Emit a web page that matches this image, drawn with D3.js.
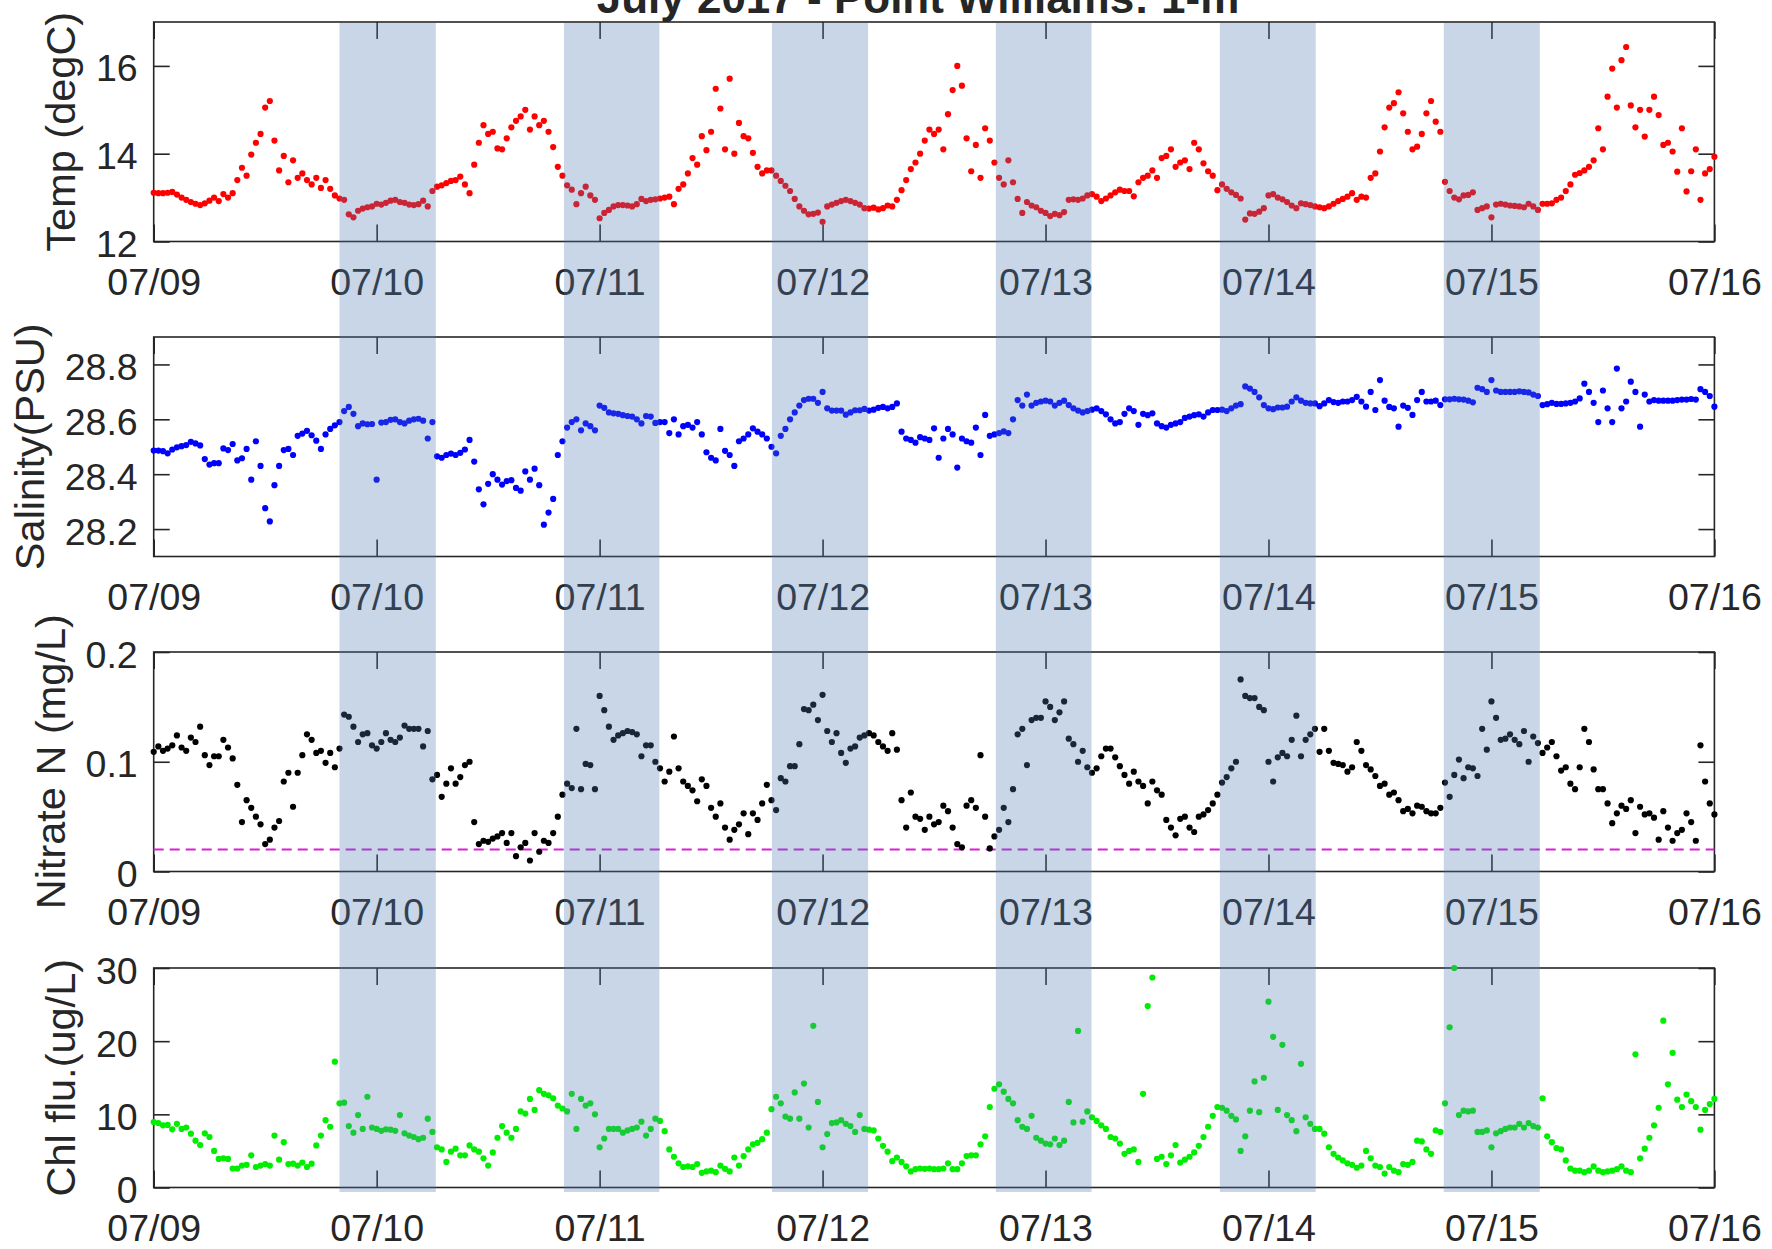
<!DOCTYPE html>
<html>
<head>
<meta charset="utf-8">
<script src="https://cdn.jsdelivr.net/npm/d3@7"></script>
<style>
  html, body { margin: 0; padding: 0; background: #fff; }
  svg { display: block; }
  text { font-family: "Liberation Sans", Arial, Helvetica, sans-serif; fill: #262626; }
</style>
</head>
<body>
<svg id="chart" width="1772" height="1249"></svg>
<script>
// ---- Sampling grid: readings every 30 minutes from 07/09 00:00 to 07/16 00:00 ----
const seriesStart = "2017-07-09T00:00";
const stepMinutes = 30;

const dayTicks = ["2017-07-09", "2017-07-10", "2017-07-11", "2017-07-12",
                  "2017-07-13", "2017-07-14", "2017-07-15", "2017-07-16"];

// Night periods (shaded)
const nightStart = ["2017-07-09T20:00", "2017-07-10T20:10", "2017-07-11T18:33",
                    "2017-07-12T18:39", "2017-07-13T18:46", "2017-07-14T18:52"];
const nightEnd   = ["2017-07-10T06:22", "2017-07-11T06:26", "2017-07-12T04:54",
                    "2017-07-13T04:57", "2017-07-14T05:05", "2017-07-15T05:12"];

// Temperature, degC (one row per day)
const tempC = [
  13.11,13.10,13.10,13.11,13.13,13.07,13.00,12.95,12.90,12.86,12.83,12.87,12.93,13.00,12.92,13.08,13.00,13.10,13.40,13.68,13.50,13.98,14.25,14.45,15.05,15.20,14.30,13.62,13.95,13.35,13.85,13.45,13.55,13.40,13.30,13.45,13.22,13.40,13.20,13.05,12.98,12.95,12.62,12.55,12.70,12.75,12.78,12.80,
  12.86,12.84,12.88,12.93,12.95,12.90,12.88,12.84,12.83,12.85,12.93,12.80,13.15,13.25,13.28,13.33,13.38,13.40,13.48,13.30,13.10,13.75,14.25,14.65,14.45,14.50,14.12,14.10,14.35,14.60,14.75,14.85,15.00,14.55,14.85,14.65,14.75,14.50,14.15,13.70,13.50,13.28,13.18,12.85,13.10,13.25,13.05,12.95,
  12.53,12.65,12.72,12.80,12.83,12.83,12.82,12.80,12.85,12.97,12.92,12.95,12.96,12.98,13.00,13.02,12.85,13.20,13.30,13.55,13.90,13.75,14.40,14.08,14.50,15.48,15.03,14.10,15.71,14.00,14.70,14.40,14.35,14.02,13.70,13.55,13.62,13.62,13.50,13.38,13.27,13.15,12.97,12.80,12.70,12.62,12.63,12.66,
  12.45,12.80,12.84,12.88,12.92,12.95,12.92,12.88,12.84,12.76,12.75,12.77,12.73,12.76,12.82,12.80,12.95,13.17,13.40,13.65,13.80,14.00,14.30,14.55,14.45,14.55,14.10,14.90,15.45,16.00,15.55,14.35,13.60,14.20,13.45,14.58,14.30,13.80,13.45,13.30,13.85,13.35,12.97,12.65,12.90,12.82,12.78,12.70,
  12.65,12.58,12.63,12.60,12.67,12.95,12.96,12.95,12.98,13.05,13.08,13.02,12.92,12.98,13.05,13.12,13.18,13.15,13.15,13.03,13.35,13.45,13.50,13.62,13.45,13.90,13.95,14.10,13.70,13.80,13.85,13.65,14.25,14.10,13.78,13.60,13.50,13.17,13.30,13.20,13.12,13.06,12.98,12.50,12.64,12.63,12.68,12.76,
  13.05,13.08,13.00,12.96,12.90,12.82,12.76,12.87,12.85,12.83,12.80,12.78,12.76,12.80,12.86,12.92,12.97,13.02,13.10,12.95,13.02,13.00,13.45,13.55,14.05,14.60,15.05,15.15,15.40,14.92,14.50,14.10,14.16,14.45,14.92,15.20,14.73,14.50,13.36,13.15,13.00,12.96,13.05,13.06,13.12,12.72,12.76,12.80,
  12.55,12.84,12.86,12.84,12.82,12.81,12.80,12.78,12.86,12.80,12.72,12.86,12.86,12.87,12.95,13.00,13.15,13.30,13.52,13.56,13.62,13.70,13.85,14.58,14.10,15.30,15.94,15.05,16.13,16.43,15.10,14.60,15.00,14.39,15.00,15.30,14.88,14.20,14.25,14.05,13.59,14.58,13.14,13.60,14.10,12.95,13.55,13.65,
  13.93
];

// Salinity, PSU
const salinityPSU = [
  28.486,28.486,28.484,28.476,28.490,28.498,28.502,28.506,28.518,28.512,28.505,28.455,28.435,28.440,28.440,28.494,28.488,28.510,28.450,28.458,28.492,28.380,28.520,28.430,28.276,28.228,28.360,28.430,28.488,28.492,28.470,28.540,28.548,28.558,28.542,28.522,28.492,28.545,28.565,28.578,28.590,28.630,28.645,28.620,28.575,28.585,28.582,28.583,
  28.380,28.588,28.590,28.598,28.600,28.590,28.585,28.595,28.600,28.602,28.595,28.530,28.590,28.465,28.460,28.470,28.475,28.470,28.478,28.490,28.525,28.446,28.345,28.290,28.365,28.400,28.380,28.362,28.375,28.378,28.350,28.340,28.410,28.380,28.420,28.360,28.216,28.260,28.310,28.470,28.520,28.570,28.590,28.600,28.560,28.585,28.575,28.560,
  28.650,28.642,28.625,28.622,28.620,28.615,28.612,28.610,28.600,28.585,28.612,28.610,28.587,28.590,28.590,28.550,28.600,28.545,28.575,28.580,28.570,28.590,28.545,28.480,28.460,28.450,28.565,28.485,28.470,28.430,28.520,28.530,28.545,28.567,28.555,28.545,28.530,28.500,28.476,28.540,28.565,28.600,28.625,28.650,28.670,28.675,28.675,28.660,
  28.700,28.640,28.632,28.632,28.632,28.617,28.625,28.633,28.633,28.638,28.632,28.635,28.642,28.645,28.640,28.645,28.658,28.555,28.530,28.525,28.515,28.535,28.530,28.525,28.567,28.460,28.530,28.565,28.545,28.424,28.530,28.520,28.515,28.570,28.470,28.616,28.540,28.545,28.550,28.556,28.550,28.600,28.670,28.650,28.690,28.650,28.660,28.665,
  28.668,28.665,28.650,28.660,28.668,28.652,28.640,28.632,28.625,28.630,28.635,28.640,28.630,28.618,28.600,28.585,28.590,28.620,28.640,28.630,28.580,28.620,28.615,28.622,28.585,28.575,28.570,28.580,28.585,28.590,28.605,28.610,28.615,28.618,28.610,28.625,28.634,28.634,28.635,28.630,28.640,28.650,28.655,28.720,28.712,28.700,28.680,28.652,
  28.640,28.637,28.643,28.643,28.646,28.665,28.680,28.668,28.660,28.658,28.658,28.648,28.658,28.670,28.663,28.660,28.665,28.665,28.670,28.682,28.665,28.646,28.700,28.634,28.743,28.668,28.645,28.640,28.573,28.650,28.642,28.616,28.670,28.700,28.665,28.665,28.668,28.652,28.673,28.673,28.675,28.673,28.672,28.668,28.662,28.715,28.710,28.700,
  28.743,28.705,28.700,28.700,28.700,28.700,28.702,28.700,28.698,28.690,28.685,28.652,28.655,28.660,28.656,28.656,28.658,28.660,28.665,28.676,28.730,28.700,28.660,28.590,28.705,28.640,28.590,28.785,28.640,28.665,28.737,28.700,28.573,28.690,28.665,28.670,28.668,28.668,28.668,28.668,28.670,28.672,28.672,28.674,28.672,28.710,28.700,28.685,
  28.646
];

// Nitrate N, mg/L
const nitrateN = [
  0.109,0.114,0.110,0.112,0.115,0.124,0.113,0.110,0.122,0.118,0.132,0.106,0.097,0.105,0.105,0.120,0.113,0.103,0.079,0.045,0.065,0.058,0.050,0.043,0.025,0.029,0.040,0.046,0.082,0.090,0.059,0.090,0.106,0.125,0.120,0.108,0.110,0.099,0.108,0.095,0.112,0.143,0.141,0.132,0.118,0.125,0.126,0.115,
  0.112,0.118,0.126,0.120,0.118,0.122,0.133,0.130,0.130,0.130,0.114,0.128,0.084,0.088,0.068,0.080,0.094,0.080,0.086,0.097,0.100,0.045,0.025,0.028,0.027,0.030,0.032,0.035,0.026,0.035,0.014,0.022,0.026,0.010,0.035,0.018,0.028,0.026,0.035,0.050,0.070,0.080,0.076,0.130,0.075,0.098,0.097,0.075,
  0.160,0.147,0.132,0.120,0.124,0.126,0.128,0.127,0.125,0.105,0.115,0.115,0.100,0.094,0.082,0.091,0.123,0.094,0.082,0.078,0.074,0.064,0.084,0.078,0.058,0.050,0.062,0.040,0.029,0.038,0.043,0.053,0.034,0.053,0.047,0.062,0.079,0.065,0.056,0.085,0.082,0.096,0.096,0.116,0.148,0.147,0.152,0.138,
  0.161,0.128,0.118,0.126,0.108,0.099,0.112,0.114,0.122,0.124,0.126,0.124,0.118,0.114,0.110,0.126,0.111,0.065,0.040,0.072,0.050,0.048,0.038,0.050,0.043,0.045,0.060,0.055,0.040,0.025,0.022,0.060,0.065,0.058,0.106,0.050,0.021,0.032,0.038,0.058,0.045,0.075,0.125,0.130,0.097,0.138,0.140,0.140,
  0.155,0.150,0.138,0.145,0.155,0.121,0.116,0.100,0.110,0.095,0.090,0.094,0.105,0.112,0.112,0.104,0.096,0.088,0.080,0.091,0.082,0.078,0.062,0.082,0.074,0.070,0.047,0.040,0.033,0.048,0.050,0.040,0.036,0.050,0.052,0.056,0.062,0.070,0.081,0.086,0.094,0.100,0.175,0.160,0.158,0.158,0.150,0.147,
  0.100,0.082,0.104,0.108,0.105,0.120,0.142,0.105,0.120,0.125,0.130,0.109,0.130,0.110,0.099,0.098,0.097,0.091,0.095,0.118,0.110,0.097,0.093,0.087,0.078,0.080,0.070,0.072,0.065,0.055,0.057,0.053,0.060,0.059,0.055,0.053,0.053,0.058,0.081,0.068,0.088,0.102,0.085,0.095,0.094,0.087,0.130,0.111,
  0.155,0.140,0.120,0.121,0.125,0.120,0.116,0.128,0.100,0.123,0.117,0.108,0.113,0.118,0.105,0.092,0.095,0.080,0.075,0.095,0.130,0.118,0.093,0.075,0.075,0.062,0.044,0.053,0.060,0.057,0.065,0.035,0.059,0.052,0.053,0.049,0.029,0.055,0.040,0.028,0.035,0.038,0.053,0.045,0.028,0.115,0.082,0.062,
  0.052
];
const nitrateThreshold = 0.02;

// Chlorophyll fluorescence, ug/L
const chlFlu = [
  8.95,8.80,8.50,8.55,7.95,8.70,8.00,8.20,7.35,6.40,5.80,7.40,6.90,5.00,3.90,4.00,3.90,2.60,2.60,3.00,3.10,4.40,2.80,3.00,3.20,3.00,7.10,3.80,6.20,3.20,3.25,3.00,3.40,2.80,3.25,5.75,7.10,9.20,8.30,17.20,11.50,11.60,8.40,7.50,9.90,8.00,12.40,8.20,
  8.00,7.75,7.95,7.90,7.75,9.90,7.40,7.10,6.90,6.60,6.80,9.40,7.60,5.50,5.20,3.50,4.90,5.30,4.40,4.40,5.75,5.20,4.90,4.00,3.00,4.80,6.80,8.40,7.50,6.80,8.00,10.40,10.10,12.10,10.60,13.30,12.80,12.60,12.20,11.20,10.80,10.40,12.80,8.00,12.10,11.20,11.50,10.00,
  5.50,6.70,8.00,8.00,8.00,7.50,7.80,8.00,8.20,9.00,7.10,8.00,9.40,9.10,7.70,5.20,4.20,3.30,2.80,2.90,2.80,3.20,2.00,2.20,2.30,2.10,3.00,2.55,2.20,4.10,3.00,4.30,5.20,5.90,6.10,6.60,7.50,10.70,12.40,11.50,9.70,9.40,13.00,9.40,14.20,8.20,22.10,11.70,
  5.50,7.30,8.80,8.90,9.20,8.70,8.40,7.60,9.90,8.00,7.90,7.80,6.70,5.70,4.90,3.60,4.10,3.50,2.90,2.20,2.50,2.60,2.55,2.60,2.50,2.50,2.60,3.30,2.50,2.50,3.30,4.30,4.40,4.40,5.90,7.00,11.00,13.50,14.10,13.10,12.10,11.50,9.20,8.30,8.00,9.80,6.80,6.40,
  6.00,5.90,6.70,5.80,6.40,11.70,8.90,21.40,9.00,10.40,9.60,9.10,8.50,8.00,6.90,6.70,6.00,4.60,5.00,5.20,3.50,12.80,24.80,28.70,3.90,4.20,3.20,4.40,5.80,3.40,3.80,4.20,4.80,5.70,6.90,8.30,9.80,11.00,10.90,10.50,9.80,9.30,5.00,7.00,10.50,14.50,10.30,15.00,
  25.40,20.60,10.60,19.50,9.90,9.20,7.70,16.90,9.60,8.70,8.00,8.00,7.35,5.50,4.60,4.10,3.70,3.30,3.10,2.70,3.00,5.00,4.00,3.00,2.80,1.90,2.80,2.30,2.10,3.20,3.10,3.50,6.40,6.30,5.20,4.60,7.80,7.60,11.50,21.90,30.00,9.90,10.50,10.40,10.50,7.60,7.60,7.80,
  5.50,7.40,7.70,8.00,8.20,8.20,8.70,8.20,8.80,8.40,8.20,12.20,7.00,6.20,5.40,5.20,3.70,2.60,2.30,2.30,2.10,2.30,2.90,2.30,2.10,2.20,2.30,2.50,2.90,2.30,2.10,18.20,4.00,5.30,6.80,8.50,10.90,22.80,14.10,18.40,12.00,11.00,12.70,11.80,11.00,7.90,10.60,11.40,
  12.10
];

// Axis tick values per panel
const tempTicks = [12, 14, 16];
const salinityTicks = [28.2, 28.4, 28.6, 28.8];
const nitrateTicks = [0, 0.1, 0.2];
const chlTicks = [0, 10, 20, 30];

const titleText = "July 2017 - Point Williams: 1-m";

// ---- Layout ----
const svg = d3.select("#chart");
svg.append("rect").attr("width", 1772).attr("height", 1249).attr("fill", "#fff");

const plotLeft = 153.7, plotRight = 1714.4;
const panelHeight = 219.5;
const axisColor = "#262626";
const tickFont = 37.5, labelFont = 41.5;

const parseTime = d3.utcParse("%Y-%m-%dT%H:%M");
const parseDay = d3.utcParse("%Y-%m-%d");
const t0 = parseTime(seriesStart);
const timeAt = i => new Date(t0.getTime() + i * stepMinutes * 60000);

const x = d3.scaleUtc()
  .domain([parseDay(dayTicks[0]), parseDay(dayTicks[dayTicks.length - 1])])
  .range([plotLeft, plotRight]);

const panels = [
  { label: "Temp (degC)",      values: tempC,       domain: [12, 17],     ticks: tempTicks,     color: "#ff0000", top: 22 },
  { label: "Salinity(PSU)",    values: salinityPSU, domain: [28.1, 28.9], ticks: salinityTicks, color: "#0000ff", top: 337 },
  { label: "Nitrate N (mg/L)", values: nitrateN,    domain: [0, 0.2],     ticks: nitrateTicks,  color: "#000000", top: 652, threshold: nitrateThreshold },
  { label: "Chl flu.(ug/L)",   values: chlFlu,      domain: [0, 30],      ticks: chlTicks,      color: "#00ee00", top: 968 }
];

const dayDates = dayTicks.map(parseDay);
const fmtDay = d3.utcFormat("%m/%d");

panels.forEach(p => {
  const g = svg.append("g").attr("transform", `translate(0,${p.top})`);
  const y = d3.scaleLinear().domain(p.domain).range([panelHeight, 0]);

  // box
  g.append("rect")
    .attr("x", plotLeft).attr("y", 0)
    .attr("width", plotRight - plotLeft).attr("height", panelHeight)
    .attr("fill", "none").attr("stroke", axisColor).attr("stroke-width", 1.6);

  // bottom axis with labels, inward ticks
  const gx = g.append("g").attr("transform", `translate(0,${panelHeight})`)
    .call(d3.axisBottom(x).tickValues(dayDates).tickFormat(fmtDay)
      .tickSizeInner(-17).tickSizeOuter(0).tickPadding(0));
  gx.select(".domain").remove();
  gx.selectAll(".tick line").attr("stroke", axisColor).attr("stroke-width", 1.6);
  gx.selectAll(".tick text").attr("y", 53.5).attr("dy", null)
    .attr("font-size", tickFont).attr("fill", axisColor);

  // top axis ticks
  const gt = g.append("g")
    .call(d3.axisTop(x).tickValues(dayDates).tickFormat("").tickSizeInner(-17).tickSizeOuter(0));
  gt.select(".domain").remove();
  gt.selectAll(".tick line").attr("stroke", axisColor).attr("stroke-width", 1.6);

  // left axis with labels
  const gy = g.append("g").attr("transform", `translate(${plotLeft},0)`)
    .call(d3.axisLeft(y).tickValues(p.ticks).tickFormat(d3.format("~g"))
      .tickSizeInner(-16).tickSizeOuter(0).tickPadding(16));
  gy.select(".domain").remove();
  gy.selectAll(".tick line").attr("stroke", axisColor).attr("stroke-width", 1.6);
  gy.selectAll(".tick text").attr("dy", "0.4em")
    .attr("font-size", tickFont).attr("fill", axisColor);

  // right axis ticks
  const gr = g.append("g").attr("transform", `translate(${plotRight},0)`)
    .call(d3.axisRight(y).tickValues(p.ticks).tickFormat("").tickSizeInner(-16).tickSizeOuter(0));
  gr.select(".domain").remove();
  gr.selectAll(".tick line").attr("stroke", axisColor).attr("stroke-width", 1.6);

  // y label placed just left of the tick labels
  let minLeft = Infinity;
  gy.selectAll(".tick text").each(function () {
    const b = this.getBBox();
    minLeft = Math.min(minLeft, plotLeft + b.x);
  });
  g.append("text")
    .attr("transform", `translate(${minLeft - 21},${panelHeight / 2}) rotate(-90)`)
    .attr("text-anchor", "middle")
    .attr("font-size", labelFont).attr("fill", axisColor)
    .text(p.label);

  // detection-limit line
  if (p.threshold !== undefined) {
    g.append("line")
      .attr("x1", plotLeft).attr("x2", plotRight)
      .attr("y1", y(p.threshold)).attr("y2", y(p.threshold))
      .attr("stroke", "#d820d8").attr("stroke-width", 2)
      .attr("stroke-dasharray", "10,6");
  }

  // data points
  const pts = p.values.map((v, i) => ({ t: timeAt(i), v })).filter(d => d.v !== null);
  g.append("g").selectAll("circle").data(pts).join("circle")
    .attr("cx", d => x(d.t)).attr("cy", d => y(d.v))
    .attr("r", 3.1).attr("fill", p.color);
});

// Night shading spans all panels
const bandTop = 23, bandBottom = 1192;
svg.append("g").selectAll("rect")
  .data(nightStart.map((s, i) => [parseTime(s), parseTime(nightEnd[i])]))
  .join("rect")
  .attr("x", d => x(d[0])).attr("width", d => x(d[1]) - x(d[0]))
  .attr("y", bandTop).attr("height", bandBottom - bandTop)
  .attr("fill", "rgb(76,124,178)").attr("fill-opacity", 0.31);

// Title (sits at the very top edge of the figure)
svg.append("text")
  .attr("x", 918).attr("y", 13)
  .attr("text-anchor", "middle")
  .attr("font-size", 44).attr("font-weight", "bold").attr("fill", "#000")
  .text(titleText);
</script>
</body>
</html>
